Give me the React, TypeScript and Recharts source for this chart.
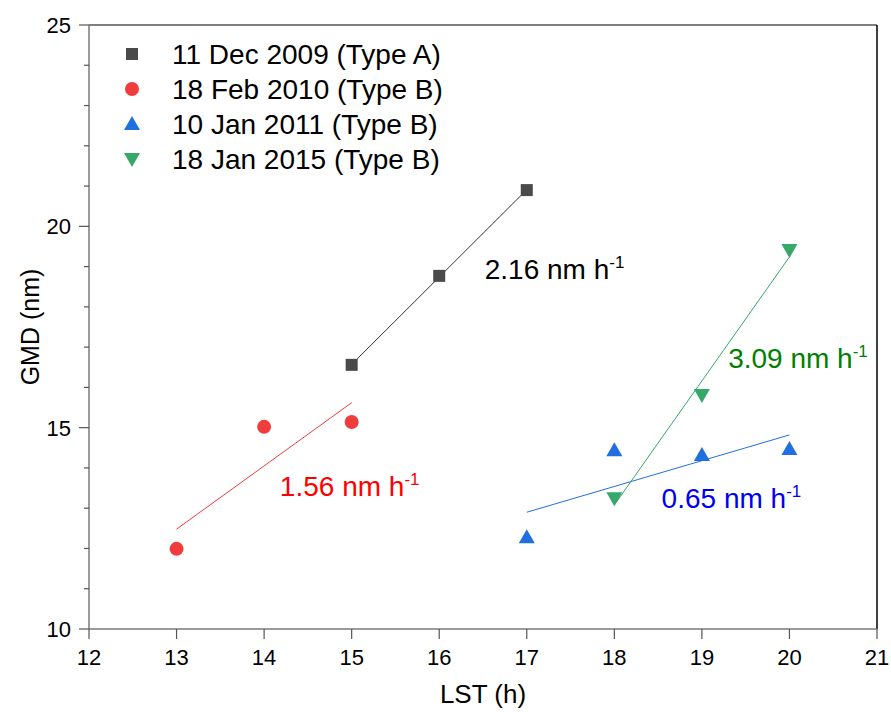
import React from 'react'
import { ReferenceDot, ReferenceLine, Scatter, ScatterChart, XAxis, YAxis } from 'recharts'

const FONT = '"Liberation Sans", Arial, Helvetica, sans-serif'

// axes
const xTicks = [12, 13, 14, 15, 16, 17, 18, 19, 20, 21]
const yTicks = [10, 11, 12, 13, 14, 15, 16, 17, 18, 19, 20, 21, 22, 23, 24, 25]

// measured points (LST hour, GMD nm)
const dec2009Hours = [15, 16, 17]
const dec2009Gmd = [16.56, 18.77, 20.9]
const feb2010Hours = [13, 14, 15]
const feb2010Gmd = [11.99, 15.02, 15.14]
const jan2011Hours = [17, 18, 19, 20]
const jan2011Gmd = [12.28, 14.44, 14.32, 14.47]
const jan2015Hours = [18, 19, 20]
const jan2015Gmd = [13.25, 15.81, 19.41]

// linear fits (end points)
const dec2009FitHours = [15, 17]
const dec2009FitGmd = [16.57, 20.91]
const feb2010FitHours = [13, 15]
const feb2010FitGmd = [12.48, 15.62]
const jan2011FitHours = [17, 20]
const jan2011FitGmd = [12.9, 14.82]
const jan2015FitHours = [18, 20]
const jan2015FitGmd = [13.08, 19.24]

const seriesNames = ['11 Dec 2009 (Type A)', '18 Feb 2010 (Type B)', '10 Jan 2011 (Type B)', '18 Jan 2015 (Type B)']
const markerColors = ['#4a4a4a', '#f03c3c', '#1f6fe0', '#35a86a']
const lineColors = ['#333333', '#f03c3c', '#1f6fe0', '#35a86a']

const rateLabels = ['2.16 nm h', '1.56 nm h', '0.65 nm h', '3.09 nm h']
const rateColors = ['#000000', '#ff0000', '#0000ee', '#008000']
const rateAt = [
  { x: 16.52, y: 18.69 },
  { x: 14.18, y: 13.3 },
  { x: 18.54, y: 13.0 },
  { x: 19.3, y: 16.48 },
]

const pts = (xs: number[], ys: number[]) => xs.map((x, i) => ({ x, y: ys[i] }))

function marker(kind: number, cx: number, cy: number, fill: string) {
  if (kind === 0) return <rect x={cx - 6} y={cy - 6} width={12} height={12} fill={fill} />
  if (kind === 1) return <circle cx={cx} cy={cy} r={7} fill={fill} />
  if (kind === 2) return <polygon points={`${cx},${cy - 8} ${cx + 8},${cy + 6} ${cx - 8},${cy + 6}`} fill={fill} />
  return <polygon points={`${cx - 8},${cy - 6} ${cx + 8},${cy - 6} ${cx},${cy + 8}`} fill={fill} />
}

const shapeFor = (kind: number) => (p: any) => marker(kind, p.cx, p.cy, markerColors[kind])

function YTick({ x, y, payload }: any) {
  const major = payload.value % 5 === 0
  return (
    <g>
      <line x1={x - (major ? 10 : 5)} x2={x} y1={y} y2={y} stroke="#555" strokeWidth={1.2} />
      {major && (
        <text x={x - 18} y={y} dy={8} textAnchor="end" fontSize={22} fontFamily={FONT} fill="#000">
          {payload.value}
        </text>
      )}
    </g>
  )
}

function RateText(i: number) {
  return (p: any) => (
    <text x={p.cx} y={p.cy} fontSize={28} fontFamily={FONT} fill={rateColors[i]}>
      <tspan>{rateLabels[i]}</tspan>
      <tspan dy={-11} fontSize={17}>-1</tspan>
    </text>
  )
}

function LegendBox() {
  return (
    <svg width={520} height={180} style={{ position: 'absolute', left: 0, top: 0, pointerEvents: 'none' }}>
      {seriesNames.map((name, i) => {
        const cy = 54 + i * 35
        return (
          <g key={name}>
            {marker(i, 132, cy, markerColors[i])}
            <text x={172} y={cy + 10} fontSize={28} fontFamily={FONT} fill="#000">
              {name}
            </text>
          </g>
        )
      })}
    </svg>
  )
}

export default function App() {
  const fits = [
    pts(dec2009FitHours, dec2009FitGmd),
    pts(feb2010FitHours, feb2010FitGmd),
    pts(jan2011FitHours, jan2011FitGmd),
    pts(jan2015FitHours, jan2015FitGmd),
  ]
  const series = [
    pts(dec2009Hours, dec2009Gmd),
    pts(feb2010Hours, feb2010Gmd),
    pts(jan2011Hours, jan2011Gmd),
    pts(jan2015Hours, jan2015Gmd),
  ]

  return (
    <div style={{ position: 'absolute', left: 0, top: 0, width: 891, height: 715, background: '#fff' }}>
      <ScatterChart width={891} height={715} margin={{ top: 25, right: 14, bottom: 0, left: 0 }}>
        <XAxis
          type="number"
          dataKey="x"
          domain={[12, 21]}
          ticks={xTicks}
          interval={0}
          height={86}
          tickSize={10}
          tickMargin={10}
          axisLine={{ stroke: '#7a7a7a', strokeWidth: 1.5 }}
          tickLine={{ stroke: '#555', strokeWidth: 1.2 }}
          tick={{ fill: '#000', fontSize: 22, fontFamily: FONT }}
          label={{
            content: ({ viewBox }: any) => (
              <text x={viewBox.x + viewBox.width / 2} y={viewBox.y + 74} textAnchor="middle" fontSize={26} fontFamily={FONT} fill="#000">
                LST (h)
              </text>
            ),
          }}
        />
        <YAxis
          type="number"
          dataKey="y"
          domain={[10, 25]}
          ticks={yTicks}
          interval={0}
          width={89}
          tickSize={0}
          tickMargin={0}
          tickLine={false}
          axisLine={{ stroke: '#7a7a7a', strokeWidth: 1.5 }}
          tick={<YTick />}
          label={{
            content: ({ viewBox }: any) => {
              const cx = viewBox.x + 30
              const cy = viewBox.y + viewBox.height / 2
              return (
                <text x={cx} y={cy} transform={`rotate(-90 ${cx} ${cy})`} dy={9} textAnchor="middle" fontSize={25} fontFamily={FONT} fill="#000">
                  GMD (nm)
                </text>
              )
            },
          }}
        />
        <ReferenceLine y={25} stroke="#555" strokeWidth={1.5} />
        <ReferenceLine x={21} stroke="#000" strokeWidth={1.5} />
        {fits.map((d, i) => (
          <Scatter
            key={'fit' + i}
            data={d}
            line={{ stroke: lineColors[i], strokeWidth: 1 }}
            shape={() => <g />}
            legendType="none"
            isAnimationActive={false}
          />
        ))}
        {series.map((d, i) => (
          <Scatter key={seriesNames[i]} name={seriesNames[i]} data={d} shape={shapeFor(i)} isAnimationActive={false} />
        ))}
        {rateAt.map((a, i) => (
          <ReferenceDot key={rateLabels[i] + i} x={a.x} y={a.y} r={0} shape={RateText(i)} />
        ))}
      </ScatterChart>
      <LegendBox />
    </div>
  )
}
